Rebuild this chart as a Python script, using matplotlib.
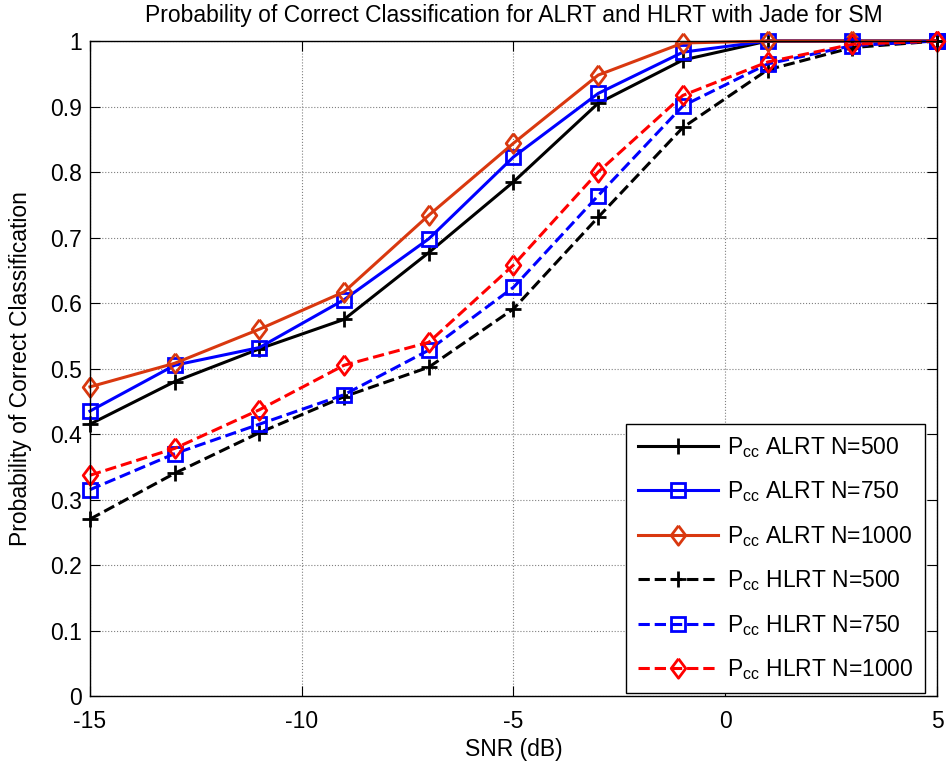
import matplotlib.pyplot as plt

plt.rcParams['font.family'] = ['Liberation Sans', 'DejaVu Sans']
plt.rcParams['axes.unicode_minus'] = False
plt.rcParams['mathtext.fontset'] = 'custom'
plt.rcParams['mathtext.rm'] = 'Liberation Sans'

snr = [-15, -13, -11, -9, -7, -5, -3, -1, 1, 3, 5]

alrt_500 = [0.415, 0.48, 0.53, 0.575, 0.677, 0.785, 0.905, 0.971, 1.0, 1.0, 1.0]
alrt_750 = [0.435, 0.505, 0.532, 0.605, 0.698, 0.823, 0.92, 0.983, 1.0, 1.0, 1.0]
alrt_1000 = [0.472, 0.508, 0.56, 0.617, 0.734, 0.844, 0.948, 0.997, 1.0, 1.0, 1.0]
hlrt_500 = [0.27, 0.34, 0.402, 0.457, 0.502, 0.591, 0.731, 0.868, 0.956, 0.99, 1.0]
hlrt_750 = [0.315, 0.37, 0.415, 0.46, 0.528, 0.624, 0.764, 0.901, 0.965, 0.993, 1.0]
hlrt_1000 = [0.337, 0.378, 0.437, 0.505, 0.54, 0.658, 0.8, 0.917, 0.968, 0.995, 1.0]

labels = ['P$_{\\mathregular{cc}}$ ALRT N=500', 'P$_{\\mathregular{cc}}$ ALRT N=750',
          'P$_{\\mathregular{cc}}$ ALRT N=1000', 'P$_{\\mathregular{cc}}$ HLRT N=500',
          'P$_{\\mathregular{cc}}$ HLRT N=750', 'P$_{\\mathregular{cc}}$ HLRT N=1000']

# matlab style diamond, a bit taller than wide
diamond = [(0, 1), (0.75, 0), (0, -1), (-0.75, 0), (0, 1)]

fig = plt.figure(figsize=(9.5, 7.64), dpi=100)
ax = fig.add_axes([0.0947, 0.089, 0.8916, 0.8573])

fs = 16.5
lw = 2.2
common = dict(lw=lw, mew=2, clip_on=False)
ax.plot(snr, alrt_500, '-', color='black', marker='+', ms=12, label=labels[0], **common)
ax.plot(snr, alrt_750, '-', color='#0000ff', marker='s', ms=10, mfc='none', label=labels[1], **common)
ax.plot(snr, alrt_1000, '-', color='#d9380f', marker=diamond, ms=14, mfc='none', label=labels[2], **common)
ax.plot(snr, hlrt_500, '--', color='black', marker='+', ms=12, label=labels[3], **common)
ax.plot(snr, hlrt_750, '--', color='#0000ff', marker='s', ms=10, mfc='none', label=labels[4], **common)
ax.plot(snr, hlrt_1000, '--', color='#ff0000', marker=diamond, ms=14, mfc='none', label=labels[5], **common)

ax.set_xlim(-15, 5)
ax.set_ylim(0, 1)
ax.set_xticks([-15, -10, -5, 0, 5])
ax.set_yticks([i / 10 for i in range(11)])
ax.set_yticklabels(['0', '0.1', '0.2', '0.3', '0.4', '0.5', '0.6', '0.7', '0.8', '0.9', '1'])
ax.tick_params(direction='in', top=True, right=True, labelsize=fs, length=7)
ax.tick_params(axis='x', pad=10)
ax.tick_params(axis='y', pad=6)
ax.grid(True, linestyle=':', color='#808080', linewidth=0.8)
for s in ax.spines.values():
    s.set_linewidth(1.0)

ax.set_xlabel('SNR (dB)', fontsize=fs, labelpad=4)
ax.set_ylabel('Probability of Correct Classification', fontsize=fs, labelpad=13)
ax.set_title('Probability of Correct Classification for ALRT and HLRT with Jade for SM',
             fontsize=fs, pad=14)

leg = ax.legend(loc='lower right', bbox_to_anchor=(0.986, 0.004), fontsize=fs,
                numpoints=1, handlelength=3.5, handletextpad=0.4, labelspacing=0.85,
                borderpad=0.5, borderaxespad=0, fancybox=False, framealpha=1,
                edgecolor='black')
leg.get_frame().set_linewidth(1.0)

fig.savefig('out.png', dpi=100)
